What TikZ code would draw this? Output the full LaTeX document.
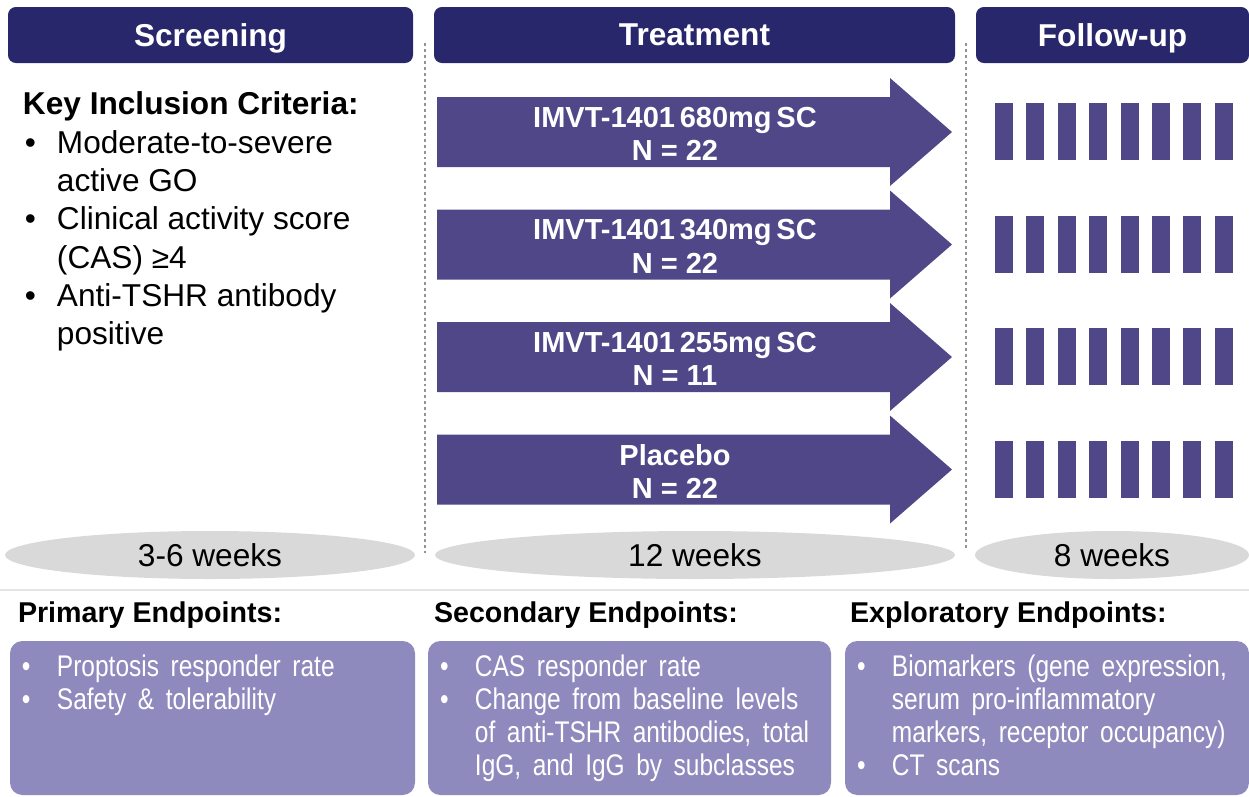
\documentclass[tikz,border=0pt]{standalone}
\usepackage{fontspec}
\setmainfont{Liberation Sans}
\newfontfamily\narrowfont[FakeStretch=0.82, WordSpace=1.7]{Liberation Sans}
\usetikzlibrary{shapes.geometric}
\definecolor{navy}{HTML}{29276B}
\definecolor{armcol}{HTML}{4F4788}
\definecolor{endpt}{HTML}{8F8ABD}
\definecolor{weekgray}{HTML}{D9D9D9}
\newcommand{\px}{0.02cm}
\newcommand{\bul}{\hspace*{0.04cm}\makebox[0.64cm][l]{\textbullet}}
\newcommand{\ind}{\hspace*{0.68cm}}
\newcommand{\ebul}{\makebox[0.7cm][l]{\textbullet}}
\newcommand{\eind}{\hspace*{0.7cm}}

\begin{document}
\begin{tikzpicture}[
    x=0.02cm, y=-0.02cm,
    every node/.style={inner sep=0pt, outer sep=0pt},
    phase/.style ={fill=navy, rounded corners=4.5pt, text=white,
                   minimum height=56*\px, text depth=0pt,
                   font=\fontsize{18}{21}\selectfont\bfseries},
    arm/.style   ={fill=armcol},
    armtxt/.style={text=white, align=center,
                   font=\fontsize{16.5}{19}\selectfont\bfseries},
    crit/.style  ={anchor=north west, align=left,
                   font=\fontsize{18}{21.8}\selectfont},
    weeks/.style ={ellipse, fill=weekgray, minimum height=48*\px,
                   font=\fontsize{18}{21}\selectfont},
    ephead/.style={anchor=base west,
                   font=\fontsize{16.3}{18}\selectfont\bfseries},
    epbox/.style ={anchor=north west, fill=endpt, rounded corners=7pt,
                   minimum height=154*\px},
    eptxt/.style ={anchor=north west, align=left, text=white,
                   font=\narrowfont\fontsize{17}{18.7}\selectfont},
    sep/.style   ={gray!85, line width=1.7pt, dash pattern=on 1.7pt off 1.7pt},
]
\useasboundingbox (0,0) rectangle (1249,796);

% phase headers
\node[phase, minimum width=405*\px] (scr) at (210.5,35) {Screening};
\node[phase, minimum width=521*\px] (trt) at (694.5,35) {Treatment};
\node[phase, minimum width=273*\px] (fup) at (1112.5,35) {Follow-up};

\draw[sep] (425,43) -- (425,553);
\draw[sep] (966,43) -- (966,550);

% screening
\node[crit] (incl) at (23,92) {\textbf{Key Inclusion Criteria:}\\
    \bul Moderate-to-severe\\ \ind active GO\\
    \bul Clinical activity score\\ \ind (CAS) ≥4\\
    \bul Anti-TSHR antibody\\ \ind positive};

% treatment arms
\foreach \r in {0,1,2,3} {
  \pgfmathsetmacro{\yc}{132+112.5*\r}
  \fill[arm] (437,\yc-35) -- (890,\yc-35) -- (890,\yc-54) -- (952,\yc)
             -- (890,\yc+54) -- (890,\yc+35) -- (437,\yc+35) -- cycle;
  % follow-up visits
  \foreach \i in {0,...,7}
    \fill[arm] (995+31.4*\i,\yc-29) rectangle ++(18,57);
}
\node[armtxt] (arm1) at (675,134)   {IMVT-1401\,680mg\,SC\\N = 22};
\node[armtxt] (arm2) at (675,246.5) {IMVT-1401\,340mg\,SC\\N = 22};
\node[armtxt] (arm3) at (675,359)   {IMVT-1401\,255mg\,SC\\N = 11};
\node[armtxt] (arm4) at (675,471.5) {Placebo\\N = 22};

% durations
\node[weeks, minimum width=410*\px] (wk1) at (210,555)  {3-6 weeks};
\node[weeks, minimum width=520*\px] (wk2) at (695,555)  {12 weeks};
\node[weeks, minimum width=274*\px] (wk3) at (1112,555) {8 weeks};

\draw[gray!20, line width=1.5pt] (0,590) -- (1249,590);

% endpoints
\node[ephead] (prim) at (18,622)  {Primary Endpoints:};
\node[ephead] (sec)  at (434,622) {Secondary Endpoints:};
\node[ephead] (expl) at (850,622) {Exploratory Endpoints:};

\node[epbox, minimum width=405*\px] (primbox) at (10,641)  {};
\node[epbox, minimum width=403*\px] (secbox)  at (428,641) {};
\node[epbox, minimum width=404*\px] (explbox) at (845,641) {};

\node[eptxt] (primtxt) at (22,655) {\ebul Proptosis responder rate\\
    \ebul Safety \& tolerability};
\node[eptxt] (sectxt) at (440,655) {\ebul CAS responder rate\\
    \ebul Change from baseline levels\\
    \eind of anti-TSHR antibodies, total\\
    \eind IgG, and IgG by subclasses};
\node[eptxt] (expltxt) at (857,655) {\ebul Biomarkers (gene expression,\\
    \eind serum pro-inflammatory\\
    \eind markers, receptor occupancy)\\
    \ebul CT scans};
\end{tikzpicture}
\end{document}
